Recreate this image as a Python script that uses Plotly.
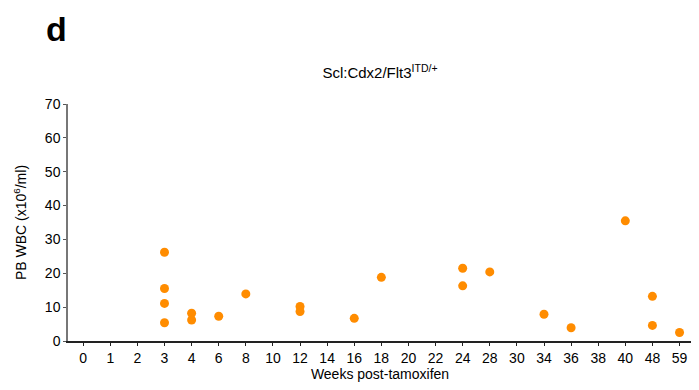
import plotly.graph_objects as go

categories = ["0", "1", "2", "3", "4", "6", "8", "10", "12", "14", "16", "18", "20", "22",
              "24", "28", "30", "34", "36", "38", "40", "48", "59"]
point_weeks = ["3", "3", "3", "3", "4", "4", "6", "8", "12", "12", "16", "18",
               "24", "24", "28", "34", "36", "40", "48", "48", "59"]
point_wbc = [26.2, 15.5, 11.1, 5.4, 8.2, 6.2, 7.3, 13.9, 10.2, 8.7, 6.7, 18.8,
             21.5, 16.3, 20.4, 7.9, 3.9, 35.5, 13.2, 4.6, 2.5]
y_ticks = [0, 10, 20, 30, 40, 50, 60, 70]

idx = {c: i for i, c in enumerate(categories)}
xs = [idx[w] for w in point_weeks]

fig = go.Figure()
fig.add_trace(go.Scatter(x=xs, y=point_wbc, mode="markers",
                         marker=dict(color="#FF8C00", size=9, line=dict(width=0)),
                         showlegend=False))

# the page body adds an 8px offset; compensate
OFF = 8
W, H = 699 - OFF, 390 - OFF
L, R, T, B = 68 - OFF, 7, 104 - OFF, 49
pw, ph = W - L - R, H - T - B

font = "Liberation Sans, Arial, sans-serif"
fig.update_layout(
    width=W, height=H,
    margin=dict(l=L, r=R, t=T, b=B, autoexpand=False),
    plot_bgcolor="white", paper_bgcolor="white",
    font=dict(family=font, size=14, color="black"),
    title=dict(text="Scl:Cdx2/Flt3<sup>ITD/+</sup>", x=(380 - OFF) / W, xanchor="center",
               xref="container", y=1 - (73 - OFF) / H, yref="container", yanchor="middle",
               automargin=False, font=dict(size=15, family=font)),
    annotations=[dict(text="<b>d</b>", x=(44 - OFF - L) / pw, y=(H - B) / ph,
                      xref="paper", yref="paper",
                      xanchor="left", yanchor="top", showarrow=False,
                      font=dict(size=34, family=font, color="black"))],
)
fig.update_xaxes(range=[-0.56, 22.46], tickvals=list(range(len(categories))), ticktext=categories,
                 showline=True, linecolor="#222", linewidth=1.5, ticks="outside", ticklen=3,
                 tickcolor="#222", showgrid=False, zeroline=False, automargin=False,
                 title=dict(text="Weeks post-tamoxifen", font=dict(size=14), standoff=5),
                 tickfont=dict(size=14))
fig.update_yaxes(range=[0, 70], tickvals=y_ticks, showline=True, linecolor="#777", linewidth=1.5,
                 ticks="outside", ticklen=3, tickcolor="#555", showgrid=False, zeroline=False,
                 automargin=False,
                 title=dict(text="PB WBC (x10<sup>6</sup>/ml)", font=dict(size=14), standoff=15),
                 tickfont=dict(size=14))
fig.write_html("out.html")
